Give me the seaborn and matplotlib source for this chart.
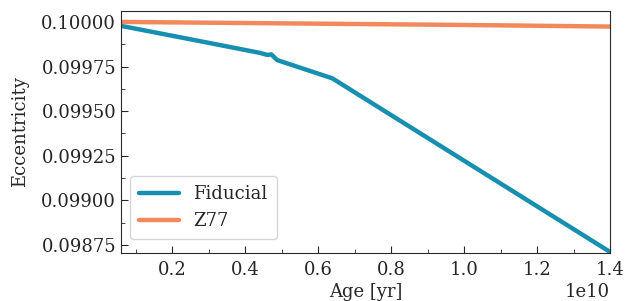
import numpy as np
import pandas as pd
import matplotlib
matplotlib.use("Agg")
import matplotlib.pyplot as plt
import seaborn as sns
from matplotlib.ticker import AutoMinorLocator

# values
fid_age = [0.060e10, 0.277e10, 0.442e10, 0.461e10, 0.472e10, 0.488e10, 0.639e10, 1.40e10]
fid_ecc = [0.099978, 0.099892, 0.099826, 0.099815, 0.099818, 0.099786, 0.099684, 0.098711]
z77_age = [0.060e10, 0.5e10, 1.0e10, 1.40e10]
z77_ecc = [0.100000, 0.099992, 0.099983, 0.099974]

df = pd.concat([
    pd.DataFrame({"Age": fid_age, "Ecc": fid_ecc, "model": "Fiducial"}),
    pd.DataFrame({"Age": z77_age, "Ecc": z77_ecc, "model": "Z77"}),
])

sns.set_style("ticks")
plt.rcParams["font.family"] = ["DejaVu Serif"]
plt.rcParams["axes.edgecolor"] = "#2a2a2a"

fs = 13
fig = plt.figure(figsize=(6.25, 3.01), dpi=100)
ax = fig.add_axes([0.1936, 0.1595, 0.7824, 0.8056])

sns.lineplot(data=df, x="Age", y="Ecc", hue="model",
             palette={"Fiducial": "#178fb0", "Z77": "#f2895d"},
             linewidth=3.2, ax=ax)

ax.set_xlim(0.060e10, 1.4e10)
ax.set_ylim(0.098705, 0.100064)
ax.set_xlabel("Age [yr]", fontsize=fs, labelpad=3)
ax.set_ylabel("Eccentricity", fontsize=fs, labelpad=9)
ax.set_yticks([0.09875, 0.09900, 0.09925, 0.09950, 0.09975, 0.10000])
ax.set_yticklabels(["0.09875", "0.09900", "0.09925", "0.09950", "0.09975", "0.10000"])
ax.xaxis.set_minor_locator(AutoMinorLocator(2))
ax.yaxis.set_minor_locator(AutoMinorLocator(2))
ax.tick_params(which="both", direction="in", labelsize=fs)
ax.tick_params(axis="x", which="major", pad=6)
ax.tick_params(which="major", length=5)
ax.tick_params(which="minor", length=3)
ax.xaxis.get_offset_text().set_fontsize(fs)

leg = ax.legend(loc="lower left", fontsize=fs, frameon=True, handlelength=2.2,
                borderpad=0.5, bbox_to_anchor=(0.0, 0.02))
leg.get_frame().set_edgecolor("#cccccc")
for h in leg.get_lines():
    h.set_linewidth(3.2)

fig.savefig("out.png", dpi=100)
